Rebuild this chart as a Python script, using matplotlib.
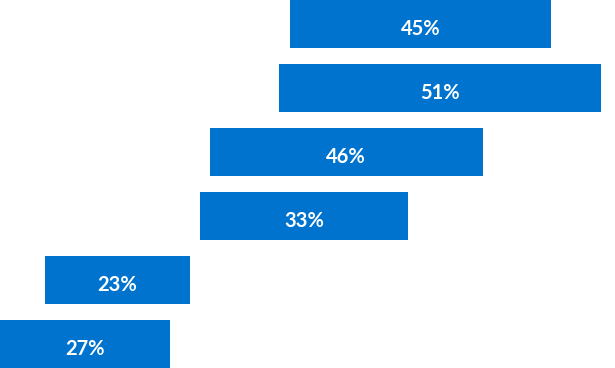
import matplotlib
matplotlib.use("Agg")
import matplotlib.pyplot as plt

labels = ["45%", "51%", "46%", "33%", "23%", "27%"]
starts = [47.2, 45.4, 34.1, 32.5, 7.3, 0.0]
ends = [89.6, 97.7, 78.5, 66.3, 30.9, 27.6]

color = "#0073CF"
bar_h = 0.745

fig = plt.figure(figsize=(6.15, 3.68), dpi=100)
ax = fig.add_axes([0, 0, 1, 1])
ypos = list(range(len(labels)))
widths = [e - s for s, e in zip(starts, ends)]
ax.barh(ypos, widths, left=starts, height=bar_h, color=color)
for y, s, w, lab in zip(ypos, starts, widths, labels):
    ax.annotate(lab, (s + w / 2, y), xytext=(0, -3.5), textcoords="offset points",
                ha="center", va="center", color="white",
                fontsize=14.5, fontweight="bold", family=["Lato", "DejaVu Sans"])
ax.set_xlim(0, 100)
ax.set_ylim(len(labels) - 1 + bar_h / 2, -bar_h / 2)
ax.axis("off")
fig.savefig("out.png", dpi=100)
